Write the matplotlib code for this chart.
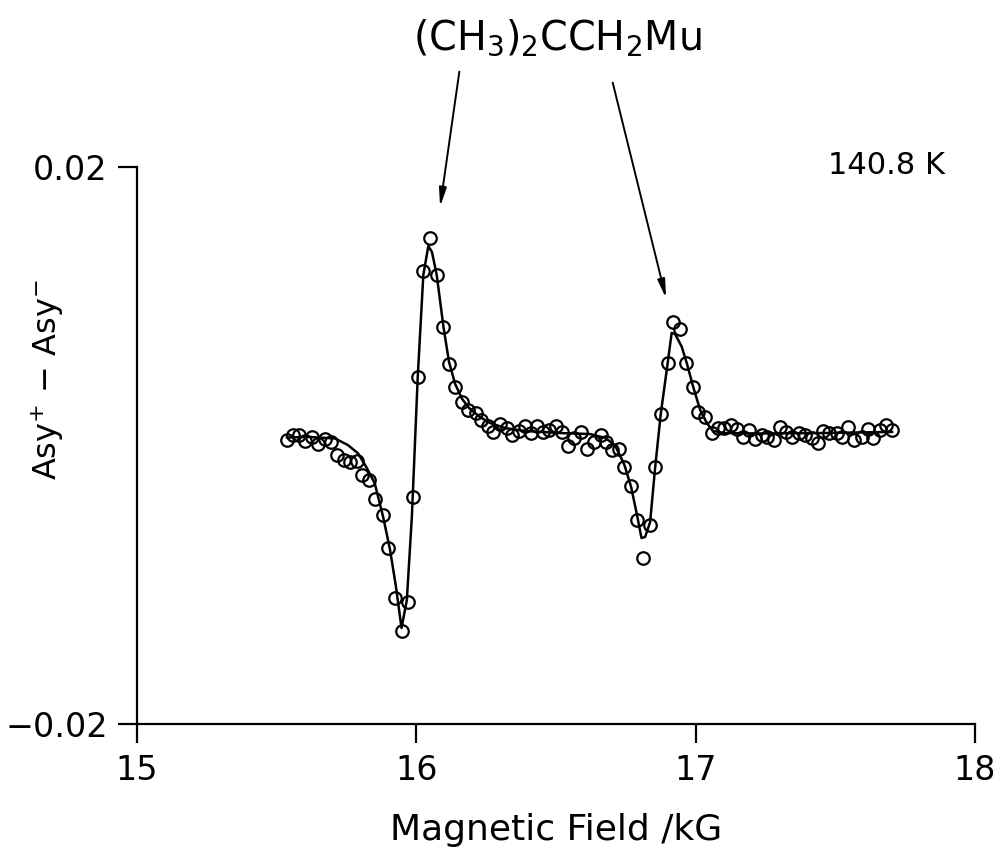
import matplotlib
matplotlib.use('Agg')
import matplotlib.pyplot as plt

# Measured data (Magnetic field in kG, asymmetry difference)
field = [15.537, 15.559, 15.580, 15.602, 15.625, 15.648, 15.673, 15.695, 15.716, 15.741,
         15.763, 15.788, 15.807, 15.832, 15.853, 15.880, 15.900, 15.924, 15.948, 15.971,
         15.989, 16.005, 16.025, 16.049, 16.073, 16.097, 16.117, 16.139, 16.163, 16.186,
         16.214, 16.232, 16.257, 16.276, 16.300, 16.324, 16.343, 16.367, 16.389, 16.409,
         16.432, 16.454, 16.475, 16.499, 16.522, 16.543, 16.565, 16.591, 16.610, 16.635,
         16.661, 16.679, 16.700, 16.725, 16.745, 16.768, 16.791, 16.813, 16.837, 16.855,
         16.875, 16.900, 16.920, 16.944, 16.966, 16.992, 17.010, 17.034, 17.058, 17.081,
         17.102, 17.126, 17.147, 17.169, 17.192, 17.213, 17.237, 17.257, 17.281, 17.302,
         17.324, 17.346, 17.370, 17.392, 17.416, 17.439, 17.455, 17.479, 17.505, 17.523,
         17.545, 17.568, 17.595, 17.616, 17.636, 17.660, 17.682, 17.704]
asym_e3 = [0.41, 0.77, 0.74, 0.34, 0.63, 0.13, 0.48, 0.27, -0.66, -1.02,
           -1.14, -1.13, -2.13, -2.46, -3.82, -4.97, -7.31, -10.95, -13.27, -11.23,
           -3.68, 4.93, 12.54, 14.88, 12.25, 8.54, 5.87, 4.24, 3.17, 2.53,
           2.33, 1.88, 1.42, 0.99, 1.58, 1.25, 0.74, 1.04, 1.40, 0.94,
           1.43, 0.97, 1.15, 1.43, 0.95, -0.02, 0.53, 1.01, -0.21, 0.25,
           0.74, 0.25, -0.30, -0.20, -1.56, -2.87, -5.33, -8.03, -5.69, -1.55,
           2.28, 5.96, 8.90, 8.36, 5.92, 4.24, 2.40, 2.04, 0.89, 1.25,
           1.30, 1.49, 1.18, 0.65, 1.13, 0.46, 0.77, 0.65, 0.41, 1.32,
           1.01, 0.65, 0.89, 0.77, 0.53, 0.18, 1.08, 0.94, 0.89, 0.61,
           1.32, 0.41, 0.65, 1.18, 0.53, 1.13, 1.49, 1.13]

# Fitted curve
fit_field = [15.537, 15.619, 15.709, 15.755, 15.791, 15.820, 15.851, 15.881, 15.906, 15.927,
             15.947, 15.966, 15.984, 16.005, 16.025, 16.043, 16.056, 16.073, 16.097, 16.117,
             16.139, 16.164, 16.192, 16.228, 16.264, 16.318, 16.389, 16.515, 16.622, 16.676,
             16.711, 16.745, 16.769, 16.790, 16.806, 16.819, 16.837, 16.855, 16.875, 16.900,
             16.914, 16.926, 16.950, 16.968, 16.991, 17.016, 17.040, 17.062, 17.105, 17.231,
             17.445, 17.703]
fit_e3 = [0.59, 0.63, 0.52, 0.05, -0.54, -1.50, -2.69, -5.09, -7.48, -10.11,
          -13.08, -11.07, -5.09, 4.93, 12.25, 14.33, 13.90, 12.25, 8.54, 6.01,
          4.43, 3.35, 2.64, 2.06, 1.63, 1.27, 1.06, 0.91, 0.84, 0.56,
          0.05, -1.38, -2.96, -4.97, -6.62, -6.55, -5.47, -1.55, 2.28, 5.96,
          8.09, 8.02, 7.11, 5.94, 4.24, 2.57, 1.63, 1.06, 0.91, 0.88,
          0.91, 0.99]

x_ticks = [15, 16, 17, 18]
y_ticks = [-0.02, 0.02]
y_ticklabels = ['\u22120.02', '0.02']

asym = [v * 1e-3 for v in asym_e3]
fit_y = [v * 1e-3 for v in fit_e3]

plt.rcParams['font.family'] = ['DejaVu Sans']
plt.rcParams['mathtext.default'] = 'regular'

fig = plt.figure(figsize=(10, 8.63), dpi=100)
ax = fig.add_axes([0.137, 0.1605, 0.838, 0.6460])

ax.plot(fit_field, fit_y, color='black', lw=1.8, zorder=2)
ax.plot(field, asym, linestyle='none', marker='o', mfc='none', mec='black',
        ms=9, mew=1.6, zorder=3)

ax.set_xlim(15, 18)
ax.set_ylim(-0.02, 0.02)
ax.set_xticks(x_ticks)
ax.set_xticklabels([str(t) for t in x_ticks])
ax.set_yticks(y_ticks)
ax.set_yticklabels(y_ticklabels)

for s in ['top', 'right']:
    ax.spines[s].set_visible(False)
for s in ['left', 'bottom']:
    ax.spines[s].set_linewidth(1.6)

ax.tick_params(direction='out', length=14, width=1.6, labelsize=24, pad=7)

ax.set_xlabel('Magnetic Field /kG', fontsize=26)
ax.xaxis.set_label_coords(0.5, -0.158)
ax.xaxis.label.set_va('top')
ax.set_ylabel('Asy$^{+}$ \u2212 Asy$^{-}$', fontsize=23)
ax.yaxis.set_label_coords(-0.085, 0.618)

fig.text(0.886, 1 - 165 / 863, '140.8 K', ha='center', va='center', fontsize=22)
fig.text(0.557, 1 - 38 / 863, '(CH$_3$)$_2$CCH$_2$Mu', ha='center', va='center', fontsize=28.5)

arrow_style = dict(arrowstyle='-|>,head_length=1.1,head_width=0.22', color='black', lw=1.4,
                   shrinkA=0, shrinkB=0)
ax.annotate('', xy=(16.085, 0.01715), xytext=(16.154, 0.02684), xycoords='data',
            arrowprops=arrow_style, annotation_clip=False)
ax.annotate('', xy=(16.894, 0.01058), xytext=(16.703, 0.02605), xycoords='data',
            arrowprops=arrow_style, annotation_clip=False)

fig.savefig('out.png', dpi=100, facecolor='white')
